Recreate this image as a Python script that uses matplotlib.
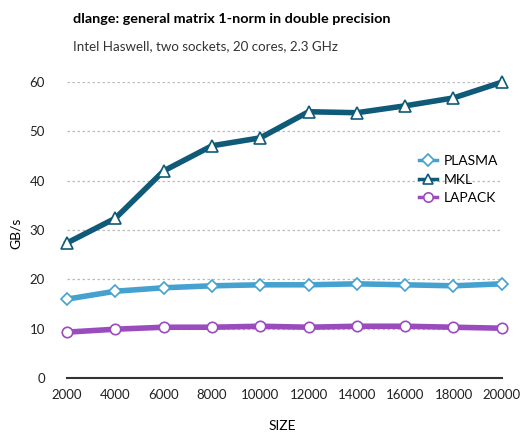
import matplotlib
matplotlib.use("Agg")
import matplotlib.pyplot as plt
from matplotlib.lines import Line2D

plt.rcParams['font.family'] = ['Lato', 'DejaVu Sans']

sizes = [2000, 4000, 6000, 8000, 10000, 12000, 14000, 16000, 18000, 20000]
plasma = [16.0, 17.6, 18.3, 18.7, 18.9, 18.9, 19.1, 18.9, 18.7, 19.1]
mkl = [27.4, 32.4, 42.0, 47.1, 48.7, 54.0, 53.8, 55.2, 56.8, 60.0]
lapack = [9.3, 9.9, 10.3, 10.3, 10.5, 10.3, 10.5, 10.5, 10.3, 10.1]
yticks = [0, 10, 20, 30, 40, 50, 60]

c_plasma = "#45a1cf"
c_mkl = "#0f5a78"
c_lapack = "#9a4cbf"

fig = plt.figure(figsize=(5.2, 4.37), dpi=100)
ax = fig.add_axes([0.129, 0.135, 0.836, 0.677])

series = [("PLASMA", plasma, c_plasma, "D", 6.5),
          ("MKL", mkl, c_mkl, "^", 8),
          ("LAPACK", lapack, c_lapack, "o", 7.5)]
handles = []
for name, vals, col, mk, ms in series:
    ax.plot(sizes, vals, color=col, lw=4, marker=mk, ms=ms, mfc="white",
            mec=col, mew=1.2, clip_on=False, zorder=3)
    handles.append(Line2D([], [], color=col, lw=2.5, marker=mk, ms=ms * 0.9,
                          mfc="white", mec=col, mew=1.2, label=name))

ax.set_xlim(2000, 20000)
ax.set_ylim(0, 60)
ax.set_xticks(sizes)
ax.set_yticks(yticks)
ax.tick_params(length=0, labelsize=9.5, colors="#222222")
ax.tick_params(axis="y", pad=16)
ax.tick_params(axis="x", pad=8)
for s in ["top", "right", "left"]:
    ax.spines[s].set_visible(False)
ax.spines["bottom"].set_color("#333333")
ax.spines["bottom"].set_linewidth(1.5)
ax.grid(axis="y", color="#bbbbbb", ls=(0, (2, 2)), lw=0.9)
ax.set_axisbelow(True)

ax.set_xlabel("SIZE", fontsize=10)
ax.xaxis.set_label_coords(0.496, -0.143)
ax.set_ylabel("GB/s", fontsize=10)
ax.yaxis.set_label_coords(-0.105, 0.49)

ax.legend(handles=handles, loc="upper left", bbox_to_anchor=(0.78, 0.795),
          frameon=False, fontsize=10, handlelength=1.3, handletextpad=0.5,
          labelspacing=0.45)

fig.text(0.14, 0.957, "dlange: general matrix 1-norm in double precision",
         fontsize=10.4, fontweight="bold", ha="left", va="center")
fig.text(0.14, 0.895, "Intel Haswell, two sockets, 20 cores, 2.3 GHz",
         fontsize=9.6, ha="left", va="center", color="#333333")

fig.savefig("out.png", dpi=100)
